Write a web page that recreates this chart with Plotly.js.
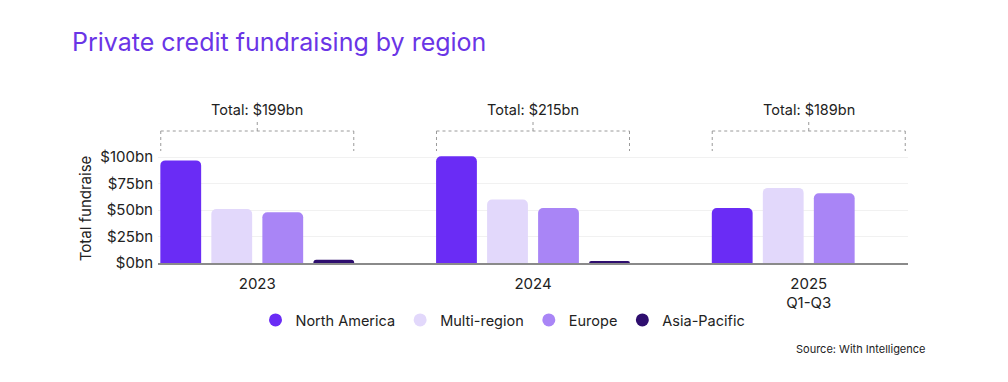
<!DOCTYPE html>
<html>
<head>
<meta charset="utf-8">
<script src="https://cdn.plot.ly/plotly-3.0.1.min.js"></script>
<style>html,body{margin:0;padding:0;background:#fff;}#chart{width:1008px;height:382px;}</style>
</head>
<body>
<div id="chart"></div>
<script>
const categories = ["2023", "2024", "2025<br>Q1-Q3"];
const northAmerica = [97, 101, 52];
const multiRegion = [51, 60, 71];
const europe = [48, 52, 66];
const asiaPacific = [3, 2, null];
const totals = ["Total: $199bn", "Total: $215bn", "Total: $189bn"];
const yTickVals = [0, 25, 50, 75, 100];
const yTickText = ["$0bn", "$25bn", "$50bn", "$75bn", "$100bn"];

const seriesNames = ["North America", "Multi-region", "Europe", "Asia-Pacific"];
const seriesData = [northAmerica, multiRegion, europe, asiaPacific];
const colors = ["#6a2cf5", "#e2d8fb", "#a985f6", "#2e0e6e"];
const FONT = "Inter, 'Open Sans', sans-serif";

const xIdx = categories.map((c, i) => i);
const traces = [];
seriesData.forEach((vals, k) => {
  traces.push({
    type: "bar", x: xIdx, y: vals, name: seriesNames[k],
    marker: {color: colors[k], cornerradius: 5},
    showlegend: false, hoverinfo: "skip"
  });
});
seriesData.forEach((vals, k) => {
  traces.push({
    type: "scatter", mode: "markers", x: [null], y: [null], name: seriesNames[k],
    marker: {color: colors[k], size: 13, symbol: "circle"},
    showlegend: true
  });
});

const half = 0.35;
const shapes = [];
const annotations = [];
const dot = {color: "#9a9a9a", width: 1, dash: "dot"};
const yTop = 1.2, yEnd = 1.018, yTick = 1.282, yText = 1.4;
xIdx.forEach(i => {
  shapes.push({type: "line", xref: "x", yref: "paper", x0: i - half, x1: i + half, y0: yTop, y1: yTop, line: dot});
  shapes.push({type: "line", xref: "x", yref: "paper", x0: i - half, x1: i - half, y0: yTop, y1: yEnd, line: dot});
  shapes.push({type: "line", xref: "x", yref: "paper", x0: i + half, x1: i + half, y0: yTop, y1: yEnd, line: dot});
  shapes.push({type: "line", xref: "x", yref: "paper", x0: i, x1: i, y0: yTop, y1: yTick, line: dot});
  annotations.push({xref: "x", yref: "paper", x: i, y: yText, text: totals[i], showarrow: false,
    font: {family: FONT, size: 14.5, color: "#222"}, xanchor: "center", yanchor: "middle"});
});
annotations.push({xref: "paper", yref: "paper", x: -0.097, y: 0.5, text: "Total fundraise", textangle: -90,
  showarrow: false, font: {family: FONT, size: 15, color: "#222"}, xanchor: "center", yanchor: "middle"});
annotations.push({xref: "paper", yref: "paper", x: (927 - 158) / 750, y: (263 - 349) / 110, text: "Source: With Intelligence",
  showarrow: false, font: {family: FONT, size: 11, color: "#222"}, xanchor: "right", yanchor: "middle"});

const layout = {
  width: 1008, height: 382,
  margin: {l: 158, r: 100, t: 153, b: 119},
  paper_bgcolor: "#fff", plot_bgcolor: "#fff",
  title: {text: "Private credit fundraising by region", x: 72/1008, xanchor: "left", xref: "container",
    y: 1 - 42/382, yanchor: "middle", yref: "container",
    font: {family: FONT, size: 25, color: "#6a35e6"}},
  barmode: "group", bargap: 0.26, bargroupgap: 0.2,
  xaxis: {type: "linear", range: [-0.36, 2.36], tickvals: xIdx, ticktext: categories, showgrid: false,
    zeroline: false, showline: true, linecolor: "#8a8a8a", linewidth: 1.5, ticks: "", ticklabelstandoff: 6,
    tickfont: {family: FONT, size: 15, color: "#222"}, fixedrange: true},
  yaxis: {range: [0, 104], tickvals: yTickVals, ticktext: yTickText, showgrid: true, gridcolor: "#f1f1f1",
    zeroline: false, showline: false, ticks: "", ticklabelstandoff: 4,
    tickfont: {family: FONT, size: 15, color: "#222"}, fixedrange: true},
  legend: {orientation: "h", xref: "container", yref: "container", x: 503/1008, xanchor: "center",
    y: 1 - 320/382, yanchor: "middle", font: {family: FONT, size: 14.5, color: "#222"},
    itemwidth: 30, tracegroupgap: 0},
  shapes: shapes, annotations: annotations,
  showlegend: true
};
Plotly.newPlot("chart", traces, layout, {displayModeBar: false, staticPlot: true});
</script>
</body>
</html>
